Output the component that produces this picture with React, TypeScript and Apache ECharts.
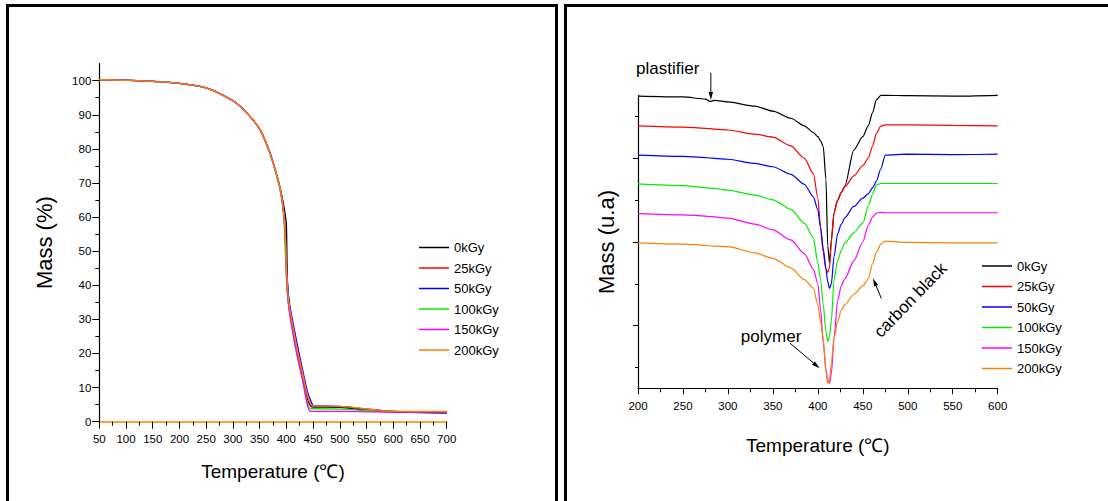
import React, { useEffect, useRef } from 'react';
import * as echarts from 'echarts';

const FONT = '"Liberation Sans", Arial, sans-serif';

const seriesNames = ['0kGy', '25kGy', '50kGy', '100kGy', '150kGy', '200kGy'];
const seriesColors = ['#000000', '#ff0000', '#0000ff', '#00ee00', '#ff00ff', '#ff8000'];

// Left panel: TGA mass (%) vs temperature
const tgaTemps = [50, 100, 150, 200, 250, 300, 325, 350, 365, 375, 385, 390, 395, 398, 400, 402, 405, 410, 420, 430, 440, 446, 452, 500, 550, 600, 650, 700];
const tga0 = [100.3, 100.1, 99.8, 99.2, 97.9, 94.1, 90.7, 85.8, 80.6, 76.1, 70.6, 67.4, 63.5, 60.5, 58.0, 41.0, 35.0, 29.0, 20.5, 13.5, 6.5, 4.5, 4.3, 4.2, 3.3, 2.8, 2.7, 2.5];
const tga25 = [100.3, 100.1, 99.8, 99.2, 97.9, 94.1, 90.7, 85.8, 80.6, 76.1, 70.5, 67.0, 61.5, 55.0, 46.0, 40.0, 34.0, 29.5, 21.0, 14.0, 7.0, 5.0, 4.6, 4.4, 3.7, 3.0, 2.9, 2.9];
const tga50 = [100.3, 100.1, 99.8, 99.2, 97.9, 94.1, 90.7, 85.8, 80.6, 76.1, 70.5, 67.0, 61.5, 55.0, 47.0, 41.0, 35.5, 31.0, 23.0, 15.5, 8.5, 6.0, 4.6, 4.5, 3.7, 3.0, 2.9, 2.8];
const tga100 = [100.3, 100.1, 99.8, 99.2, 97.9, 94.1, 90.7, 85.8, 80.5, 75.9, 70.2, 66.5, 60.0, 50.0, 42.0, 37.0, 33.0, 28.0, 19.5, 12.5, 5.0, 3.8, 3.8, 3.7, 3.3, 3.0, 2.9, 2.9];
const tga150 = [100.3, 100.1, 99.8, 99.2, 97.9, 94.1, 90.7, 85.8, 80.6, 76.1, 70.5, 66.9, 61.0, 54.0, 44.0, 38.0, 33.0, 28.0, 19.5, 12.5, 4.5, 3.0, 3.0, 3.0, 2.9, 2.8, 2.8, 2.8];
const tga200 = [100.3, 100.1, 99.8, 99.2, 97.9, 94.1, 90.7, 85.8, 80.6, 76.1, 70.5, 67.0, 61.5, 55.0, 46.0, 40.0, 34.5, 30.0, 21.5, 14.5, 7.5, 5.0, 4.6, 4.5, 3.8, 3.0, 3.0, 3.0];
const tgaValues = [tga0, tga25, tga50, tga100, tga150, tga200];

// Right panel: offset derivative curves (arbitrary units)
const dtgTemps = [200, 250, 275, 280, 285, 300, 330, 350, 370, 385, 395, 400, 403, 406, 409, 411, 413, 415, 418, 422, 426, 430, 440, 450, 456, 461, 465, 470, 475, 500, 550, 600];
const dtg0 = [6.99, 6.97, 6.92, 6.86, 6.89, 6.85, 6.75, 6.63, 6.46, 6.28, 6.12, 6.02, 5.92, 5.78, 5.0, 3.4, 3.0, 3.55, 4.2, 4.5, 4.68, 4.84, 5.70, 6.02, 6.28, 6.60, 6.90, 7.01, 7.01, 7.0, 6.99, 7.01];
const dtg25 = [6.28, 6.25, 6.22, 6.21, 6.20, 6.18, 6.08, 6.01, 5.80, 5.50, 5.14, 4.55, 3.85, 3.25, 2.85, 2.77, 2.90, 3.50, 4.20, 4.50, 4.68, 4.82, 5.08, 5.33, 5.50, 5.80, 6.10, 6.27, 6.30, 6.30, 6.29, 6.28];
const dtg50 = [5.58, 5.55, 5.52, 5.51, 5.50, 5.48, 5.38, 5.30, 5.12, 4.88, 4.58, 4.27, 3.85, 3.35, 2.85, 2.55, 2.39, 2.50, 3.15, 3.70, 3.92, 4.08, 4.35, 4.55, 4.65, 4.80, 4.95, 5.25, 5.58, 5.60, 5.59, 5.60];
const dtg100 = [4.89, 4.85, 4.80, 4.79, 4.78, 4.74, 4.62, 4.51, 4.28, 3.95, 3.60, 3.00, 2.60, 2.00, 1.35, 1.12, 1.25, 1.60, 2.60, 3.05, 3.30, 3.48, 3.72, 3.95, 4.35, 4.65, 4.86, 4.90, 4.90, 4.90, 4.90, 4.90];
const dtg150 = [4.18, 4.15, 4.12, 4.11, 4.10, 4.07, 3.93, 3.79, 3.55, 3.22, 2.85, 2.50, 1.90, 1.10, 0.45, 0.20, 0.12, 0.35, 1.20, 2.10, 2.45, 2.62, 3.05, 3.50, 3.90, 4.10, 4.19, 4.21, 4.20, 4.20, 4.20, 4.20];
const dtg200 = [3.48, 3.45, 3.42, 3.41, 3.40, 3.39, 3.24, 3.11, 2.88, 2.60, 2.40, 2.00, 1.60, 1.20, 0.40, 0.12, 0.20, 0.60, 1.20, 1.60, 1.87, 2.00, 2.25, 2.45, 2.62, 2.99, 3.25, 3.45, 3.52, 3.49, 3.48, 3.48];
const dtgValues = [dtg0, dtg25, dtg50, dtg100, dtg150, dtg200];

const leftYMajorTicks = [0, 10, 20, 30, 40, 50, 60, 70, 80, 90, 100];
const leftYMinorTicks = [5, 15, 25, 35, 45, 55, 65, 75, 85, 95];
const rightYMajorTicks = [1.5, 3.5, 5.5];
const rightYMinorTicks = [0.5, 2.5, 4.5, 6.5];

// Annotations in data coordinates of the right panel
const annotations = [
  { text: 'plastifier', at: [233, 7.64], rotate: 0, arrowFrom: [281, 7.55], arrowTo: [281, 6.9] },
  { text: 'polymer', at: [348, 1.23], rotate: 0, arrowFrom: [369, 1.08], arrowTo: [402, 0.48] },
  { text: 'carbon black', at: [503, 2.11], rotate: 46, arrowFrom: [470.6, 2.15], arrowTo: [461.4, 2.63] },
];

const black = '#000';

function arrow(a: number[], b: number[]) {
  const head = 8;
  const halfW = 2.2;
  const dx = b[0] - a[0];
  const dy = b[1] - a[1];
  const L = Math.hypot(dx, dy);
  const ux = dx / L;
  const uy = dy / L;
  const bx = b[0] - ux * head;
  const by = b[1] - uy * head;
  return [
    { type: 'line', z: 100, shape: { x1: a[0], y1: a[1], x2: bx, y2: by }, style: { stroke: black, lineWidth: 1 } },
    {
      type: 'polygon', z: 100,
      shape: { points: [[b[0], b[1]], [bx - uy * halfW, by + ux * halfW], [bx + uy * halfW, by - ux * halfW]] },
      style: { fill: black },
    },
  ];
}

export default function App() {
  const ref = useRef<HTMLDivElement>(null);
  useEffect(() => {
    const chart = echarts.init(ref.current!, null, { renderer: 'svg' });
    const tickLabel = { color: black, fontSize: 11.5, fontFamily: FONT };
    const axisLineStyle = { color: black, width: 1.2 };
    const legendCommon = {
      data: seriesNames, orient: 'vertical', itemWidth: 30, itemHeight: 1.5, icon: 'rect',
      itemGap: 7.5, selectedMode: false, textStyle: { color: black, fontSize: 13, fontFamily: FONT },
    };
    const option: any = {
      animation: false,
      backgroundColor: '#fff',
      grid: [
        { left: 99.3, top: 63.6, width: 347.4, height: 358.1 },
        { left: 638, top: 95.7, width: 359.7, height: 292.6 },
      ],
      legend: [
        { ...legendCommon, left: 414, top: 236 },
        { ...legendCommon, left: 977, top: 254.5 },
      ],
      xAxis: [
        {
          type: 'value', gridIndex: 0, min: 50, max: 700, interval: 50,
          name: 'Temperature (\u2103)', nameLocation: 'middle', nameGap: 40,
          nameTextStyle: { color: black, fontSize: 19, fontFamily: FONT },
          axisLine: { show: true, onZero: false, lineStyle: { color: '#ff8000', width: 1.5 } },
          axisTick: { show: true, inside: false, length: 7, lineStyle: { color: black } },
          minorTick: { show: true, splitNumber: 2, length: 4, lineStyle: { color: black } },
          axisLabel: { ...tickLabel, margin: 11 },
          splitLine: { show: false },
        },
        {
          type: 'value', gridIndex: 1, min: 200, max: 600, interval: 50,
          name: 'Temperature (\u2103)', nameLocation: 'middle', nameGap: 48,
          nameTextStyle: { color: black, fontSize: 19, fontFamily: FONT },
          axisLine: { show: true, onZero: false, lineStyle: axisLineStyle },
          axisTick: { show: true, inside: false, length: 6, lineStyle: { color: black } },
          minorTick: { show: true, splitNumber: 2, length: 4, lineStyle: { color: black } },
          axisLabel: { ...tickLabel, margin: 12 },
          splitLine: { show: false },
        },
      ],
      yAxis: [
        {
          type: 'value', gridIndex: 0, position: 'left', min: 0, max: 105,
          name: 'Mass (%)', nameLocation: 'middle', nameGap: 44, nameRotate: 90,
          nameTextStyle: { color: black, fontSize: 22, fontFamily: FONT },
          axisLine: { show: true, onZero: false, lineStyle: axisLineStyle },
          axisTick: { show: true, length: 7, customValues: leftYMajorTicks, lineStyle: { color: black } },
          axisLabel: { ...tickLabel, margin: 8, customValues: leftYMajorTicks },
          splitLine: { show: false },
        },
        {
          type: 'value', gridIndex: 0, position: 'left', min: 0, max: 105,
          axisLine: { show: false, onZero: false },
          axisTick: { show: true, length: 4, customValues: leftYMinorTicks, lineStyle: { color: black } },
          axisLabel: { show: false },
          splitLine: { show: false },
        },
        {
          type: 'value', gridIndex: 1, position: 'left', min: 0, max: 7,
          name: 'Mass (u.a)', nameLocation: 'middle', nameGap: 21, nameRotate: 90,
          nameTextStyle: { color: black, fontSize: 22, fontFamily: FONT },
          axisLine: { show: true, onZero: false, lineStyle: axisLineStyle },
          axisTick: { show: true, length: 5, customValues: rightYMajorTicks, lineStyle: { color: black } },
          axisLabel: { show: false },
          splitLine: { show: false },
        },
        {
          type: 'value', gridIndex: 1, position: 'left', min: 0, max: 7,
          axisLine: { show: false, onZero: false },
          axisTick: { show: true, length: 3, customValues: rightYMinorTicks, lineStyle: { color: black } },
          axisLabel: { show: false },
          splitLine: { show: false },
        },
      ],
      series: [
        ...seriesNames.map((name, i) => ({
          type: 'line', name, xAxisIndex: 0, yAxisIndex: 0, color: seriesColors[i],
          showSymbol: false, symbol: 'none', smooth: 0.3, clip: false,
          lineStyle: { width: 1.3, color: seriesColors[i] },
          data: tgaTemps.map((t, k) => [t, tgaValues[i][k]]),
        })),
        ...seriesNames.map((name, i) => ({
          type: 'line', name, xAxisIndex: 1, yAxisIndex: 2, color: seriesColors[i],
          showSymbol: false, symbol: 'none', smooth: 0.25, smoothMonotone: 'x', clip: false,
          lineStyle: { width: 1.2, color: seriesColors[i] },
          data: dtgTemps.map((t, k) => [t, dtgValues[i][k]]),
        })),
      ],
    };
    chart.setOption(option);

    const P = (p: number[]) => chart.convertToPixel({ gridIndex: 1 }, p) as number[];
    const graphics: any[] = [
      { type: 'rect', z: 200, shape: { x: 7.5, y: 5.5, width: 549, height: 520 }, style: { fill: 'none', stroke: black, lineWidth: 3 } },
      { type: 'rect', z: 200, shape: { x: 565.5, y: 5.5, width: 600, height: 520 }, style: { fill: 'none', stroke: black, lineWidth: 3 } },
    ];
    annotations.forEach((a) => {
      const c = P(a.at);
      graphics.push({
        type: 'text', z: 100, x: c[0], y: c[1], rotation: (a.rotate * Math.PI) / 180,
        style: { text: a.text, fontSize: 17, fontFamily: FONT, fill: black, align: 'center', verticalAlign: 'middle' },
      });
      graphics.push(...arrow(P(a.arrowFrom), P(a.arrowTo)));
    });
    chart.setOption({ graphic: graphics });
    return () => chart.dispose();
  }, []);
  return <div ref={ref} style={{ position: 'absolute', left: 0, top: 0, width: 1108, height: 501 }} />;
}
